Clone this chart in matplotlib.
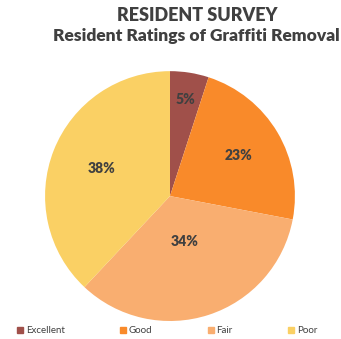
import numpy as np
import matplotlib.pyplot as plt

categories = ["Excellent", "Good", "Fair", "Poor"]
shares = [5, 23, 34, 38]
colors = ["#A0504A", "#F98A2A", "#F9AE70", "#FAD064"]
# radial position of each percentage label, as a fraction of the radius
label_dist = [0.78, 0.64, 0.38, 0.59]

plt.rcParams["font.family"] = ["Lato", "DejaVu Sans"]
text_color = "#404040"

fig = plt.figure(figsize=(3.41, 3.39), dpi=100)
ax = fig.add_axes([0.132, 0.0531, 0.733, 0.737])

wedges, _ = ax.pie(shares, colors=colors, startangle=90, counterclock=False,
                   radius=1.0, wedgeprops=dict(linewidth=0))

for w, val, d in zip(wedges, shares, label_dist):
    mid = np.deg2rad((w.theta1 + w.theta2) / 2)
    ax.text(d * np.cos(mid), d * np.sin(mid), f"{val}%", ha="center", va="center",
            fontsize=10, fontweight="heavy", color=text_color)

ax.set_xlim(-1, 1)
ax.set_ylim(-1, 1)
ax.set_aspect("equal")
ax.axis("off")

fig.text(0.577, 0.953, "RESIDENT SURVEY", ha="center", va="center",
         fontsize=13, fontweight="heavy", color=text_color)
fig.text(0.577, 0.895, "Resident Ratings of Graffiti Removal", ha="center", va="center",
         fontsize=12.5, fontweight="heavy", color=text_color)

handles = [plt.Rectangle((0, 0), 1, 1, color=c) for c in colors]
fig.legend(handles, categories, loc="center", bbox_to_anchor=(0.49, 0.024), ncol=4,
           frameon=False, fontsize=7, handlelength=0.6, handleheight=0.6,
           handletextpad=0.3, columnspacing=5.7, labelcolor=text_color)

fig.savefig("out.png", dpi=100, facecolor="white")
